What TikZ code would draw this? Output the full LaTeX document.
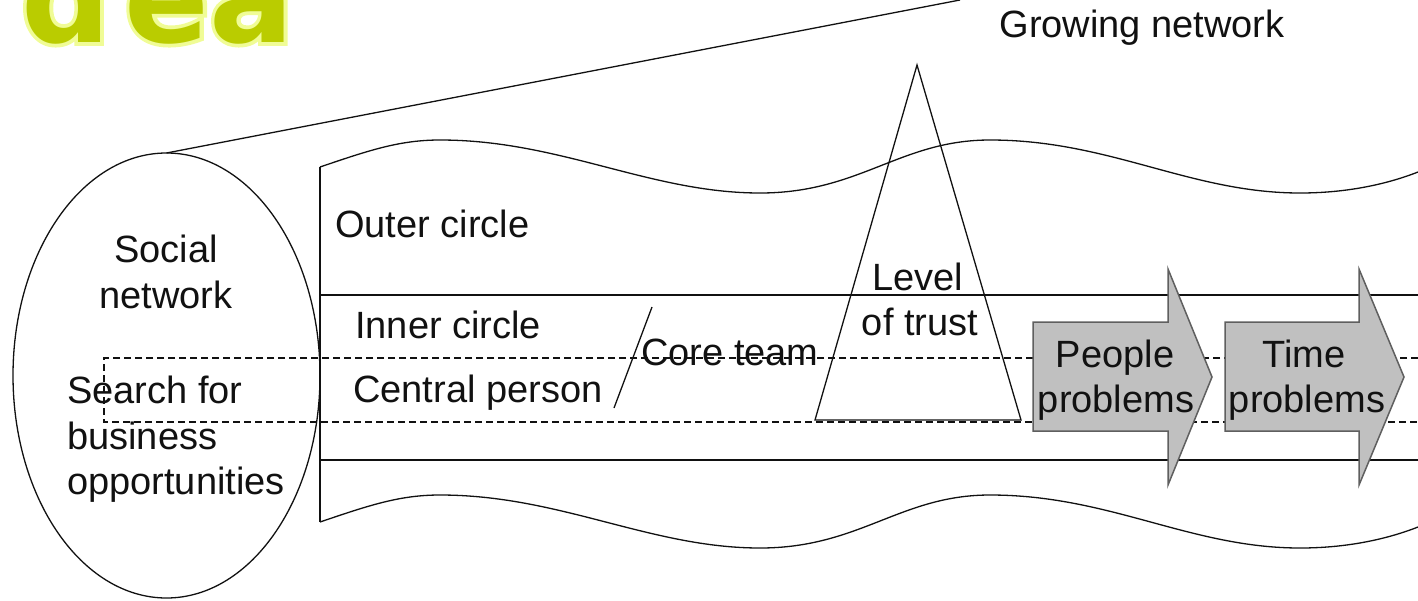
\documentclass[tikz,border=0pt]{standalone}
\usepackage{fontspec}
\newfontfamily\arialf{Liberation Sans}
\newfontfamily\titlef{DejaVu Sans Bold}
\newfontfamily\titleglowf{DejaVu Sans Bold}[FakeBold=6]
\definecolor{ideagreen}{RGB}{186,204,0}
\definecolor{ideaglow}{RGB}{240,252,150}
\definecolor{arrowfill}{RGB}{192,192,192}
\definecolor{arrowline}{RGB}{95,95,95}
\definecolor{ink}{RGB}{17,17,17}
\newcommand{\ideaword}{I\kern16.5pt d\kern14pt ea}
\tikzset{
  lbl/.style={font=\arialf\fontsize{38}{46}\selectfont, inner sep=0pt, text=ink},
  thin line/.style={draw=ink, line width=1.3pt},
  dashline/.style={draw=ink, line width=1.2pt, dash pattern=on 7pt off 4pt},
  probarrow/.style={fill=arrowfill, draw=arrowline, line width=1.5pt, line join=miter},
  ideatext/.style={inner sep=0pt, anchor=base west},
}
\begin{document}
\begin{tikzpicture}[x=1pt, y=-1pt]
\useasboundingbox (0,0) rectangle (1418,600);
\begin{scope}
\clip (0,0) rectangle (1418,600);
% title (cut off at the top)
\node[ideatext, text=ideaglow, font=\titleglowf\fontsize{125}{140}\selectfont] (ideaglow) at (-42,42) {\ideaword};
\node[ideatext, text=ideagreen, font=\titlef\fontsize{125}{140}\selectfont] (idea) at (-42,42) {\ideaword};

% social network ellipse and perspective line
\draw[thin line] (166.5,375.5) ellipse [x radius=153.5, y radius=222.5];
\coordinate (ellTop) at (166.5,153);
\coordinate (lineEnd) at (960,0);
\draw[thin line] (ellTop) -- (lineEnd);

% banner
\draw[thin line] (320,522) -- (320,167);
\draw[thin line] (320,167) .. controls (370,150) and (400,140) .. (440,140)
  .. controls (560,140) and (650,193) .. (760,193)
  .. controls (860,193) and (900,140) .. (990,140)
  .. controls (1110,140) and (1190,193) .. (1300,193)
  .. controls (1350,193) and (1390,183) .. (1418,172);
\draw[thin line] (320,522) .. controls (370,505) and (400,495) .. (440,495)
  .. controls (560,495) and (650,548) .. (760,548)
  .. controls (860,548) and (900,495) .. (990,495)
  .. controls (1110,495) and (1190,548) .. (1300,548)
  .. controls (1350,548) and (1390,538) .. (1418,527);

% horizontal bands
\draw[thin line] (320,295) -- (1418,295);
\draw[thin line] (320,460) -- (1418,460);
\draw[dashline] (1418,358) -- (104,358) -- (104,422) -- (1418,422);

% level of trust triangle
\draw[thin line, line join=miter] (917,65) -- (1021,420) -- (815,420) -- cycle;

% slash between central person and core team
\draw[thin line] (614,408) -- (652,307);

% problem arrows
\draw[probarrow] (1033,322) -- (1168,322) -- (1168,269) -- (1212,377) -- (1168,485) -- (1168,431) -- (1033,431) -- cycle;
\draw[probarrow] (1225,322) -- (1359,322) -- (1359,269) -- (1404,377) -- (1359,485) -- (1359,431) -- (1225,431) -- cycle;

% labels
\node[lbl, anchor=base] (grow) at (1142,37) {Growing network};
\node[lbl, anchor=base] (soc1) at (166,262) {Social};
\node[lbl, anchor=base] (soc2) at (166,308) {network};
\node[lbl, anchor=base west] (srch1) at (67,403) {Search for};
\node[lbl, anchor=base west] (srch2) at (67,449) {business};
\node[lbl, anchor=base west] (srch3) at (67,494) {opportunities};
\node[lbl, anchor=base west] (outer) at (335,237) {Outer circle};
\node[lbl, anchor=base west] (inner) at (355,338) {Inner circle};
\node[lbl, anchor=base west] (central) at (353,402) {Central person};
\node[lbl, anchor=base west] (core) at (641,365) {Core team};
\node[lbl, anchor=base] (lvl1) at (918,290) {Level};
\node[lbl, anchor=base] (lvl2) at (920,335) {of trust};
\node[lbl, anchor=base] (pp1) at (1115,367) {People};
\node[lbl, anchor=base] (pp2) at (1116,412) {problems};
\node[lbl, anchor=base] (tp1) at (1304,367) {Time};
\node[lbl, anchor=base] (tp2) at (1307,412) {problems};
\end{scope}
\end{tikzpicture}
\end{document}
